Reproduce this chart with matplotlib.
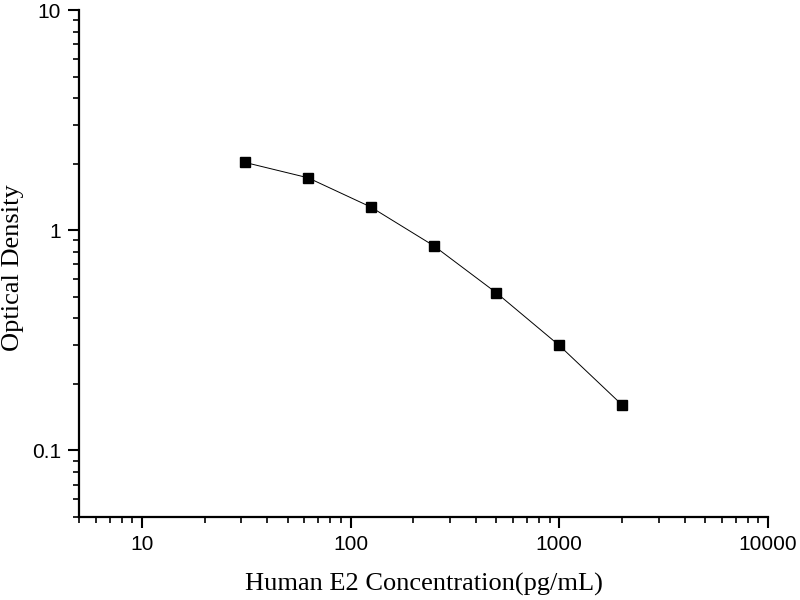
import matplotlib
matplotlib.use("Agg")
import matplotlib.pyplot as plt
from matplotlib.ticker import LogLocator, NullFormatter, FixedLocator, FixedFormatter

concentration = [31.25, 62.5, 125, 250, 500, 1000, 2000]
optical_density = [2.035, 1.734, 1.277, 0.852, 0.520, 0.300, 0.161]
x_ticks = [10, 100, 1000, 10000]
x_tick_labels = ["10", "100", "1000", "10000"]
y_ticks = [0.1, 1, 10]
y_tick_labels = ["0.1", "1", "10"]

fig = plt.figure(figsize=(8, 6), dpi=100)
ax = fig.add_axes([79/800, (600-516.7)/600, (768-79)/800, (516.7-10.3)/600])

ax.plot(concentration, optical_density, color="black", linewidth=0.7,
        marker="s", markersize=7.2, markerfacecolor="black", markeredgecolor="black")

ax.set_xscale("log")
ax.set_yscale("log")
ax.set_xlim(5, 10000)
ax.set_ylim(0.05, 10)

ax.xaxis.set_major_locator(FixedLocator(x_ticks))
ax.xaxis.set_major_formatter(FixedFormatter(x_tick_labels))
ax.yaxis.set_major_locator(FixedLocator(y_ticks))
ax.yaxis.set_major_formatter(FixedFormatter(y_tick_labels))
ax.xaxis.set_minor_locator(LogLocator(base=10, subs=range(2, 10), numticks=20))
ax.yaxis.set_minor_locator(LogLocator(base=10, subs=range(2, 10), numticks=20))
ax.xaxis.set_minor_formatter(NullFormatter())
ax.yaxis.set_minor_formatter(NullFormatter())

for s in ["top", "right"]:
    ax.spines[s].set_visible(False)
for s in ["left", "bottom"]:
    ax.spines[s].set_linewidth(1.6)

ax.tick_params(which="major", direction="out", length=8, width=1.5, pad=5,
               labelsize=15, colors="black")
ax.tick_params(which="minor", direction="out", length=4, width=1.2)
for lbl in ax.get_xticklabels() + ax.get_yticklabels():
    lbl.set_family(["Liberation Sans", "DejaVu Sans"])

ax.set_xlabel("Human E2 Concentration(pg/mL)", fontsize=19,
              family=["Liberation Serif", "DejaVu Serif"], va="center")
ax.xaxis.set_label_coords(0.5, (516.7 - 584) / 506.4)
ax.set_ylabel("Optical Density", fontsize=19,
              family=["Liberation Serif", "DejaVu Serif"], va="center")
ax.yaxis.set_label_coords((13 - 79) / 689, (516.7 - 268) / 506.4)

fig.savefig("out.png", dpi=100)
